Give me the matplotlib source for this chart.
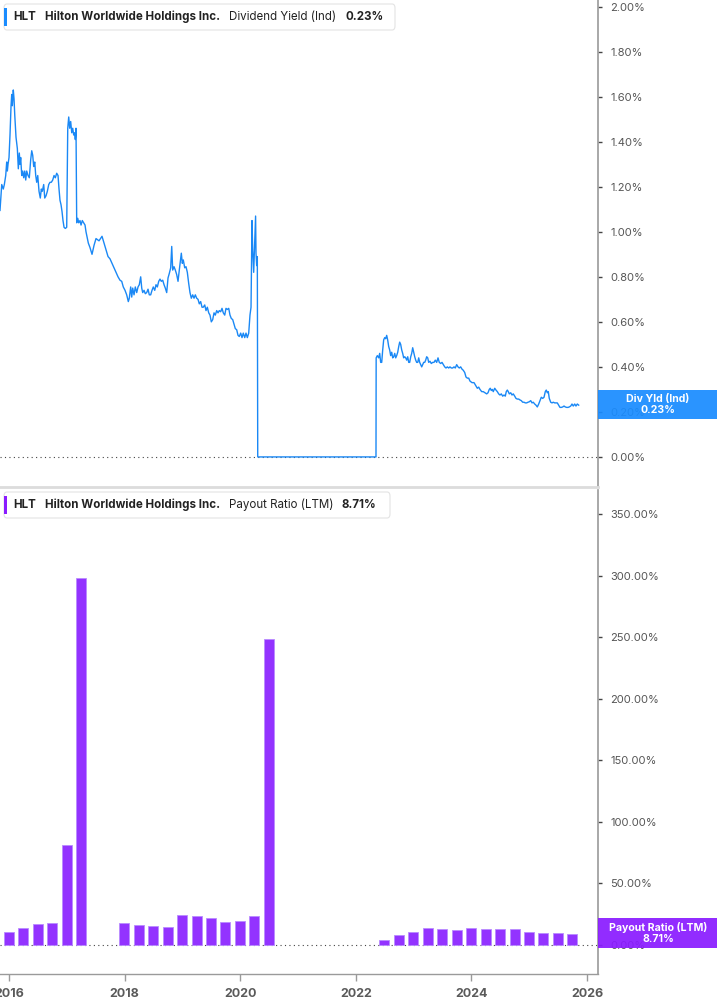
import matplotlib
matplotlib.use('Agg')
import matplotlib.pyplot as plt
from matplotlib.patches import FancyBboxPatch, Rectangle
import datetime as dt

plt.rcParams['font.family'] = ['Inter', 'DejaVu Sans']

# ---------------- data ----------------
ticker = "HLT"
company = "Hilton Worldwide Holdings Inc."
yield_label = "Dividend Yield (Ind)"
yield_last = "0.23%"
yield_tag = "Div Yld (Ind)"
payout_label = "Payout Ratio (LTM)"
payout_last = "8.71%"
payout_tag = "Payout Ratio (LTM)"

# dividend yield (%), time in decimal years
yield_years = [
    2015.844, 2015.874, 2015.901, 2015.919, 2015.943, 2015.960, 2015.971, 2015.983, 2016.000, 2016.017,
    2016.035, 2016.047, 2016.057, 2016.074, 2016.087, 2016.099, 2016.121, 2016.144, 2016.161, 2016.178,
    2016.190, 2016.202, 2016.220, 2016.237, 2016.254, 2016.272, 2016.289, 2016.306, 2016.329, 2016.351,
    2016.375, 2016.393, 2016.410, 2016.427, 2016.445, 2016.462, 2016.479, 2016.497, 2016.519, 2016.541,
    2016.559, 2016.576, 2016.600, 2016.618, 2016.640, 2016.663, 2016.687, 2016.709, 2016.732, 2016.756,
    2016.779, 2016.801, 2016.825, 2016.848, 2016.865, 2016.882, 2016.900, 2016.917, 2016.934, 2016.952,
    2016.974, 2016.998, 2017.016, 2017.033, 2017.050, 2017.067, 2017.085, 2017.102, 2017.119, 2017.137,
    2017.147, 2017.159, 2017.171, 2017.189, 2017.206, 2017.228, 2017.246, 2017.268, 2017.292, 2017.315,
    2017.332, 2017.355, 2017.372, 2017.401, 2017.436, 2017.471, 2017.505, 2017.557, 2017.609, 2017.644,
    2017.678, 2017.713, 2017.747, 2017.782, 2017.834, 2017.886, 2017.920, 2017.950, 2017.977, 2018.007,
    2018.036, 2018.064, 2018.081, 2018.105, 2018.123, 2018.140, 2018.163, 2018.185, 2018.209, 2018.232,
    2018.254, 2018.278, 2018.296, 2018.313, 2018.336, 2018.358, 2018.382, 2018.405, 2018.427, 2018.451,
    2018.474, 2018.496, 2018.521, 2018.543, 2018.566, 2018.590, 2018.612, 2018.635, 2018.659, 2018.682,
    2018.704, 2018.728, 2018.751, 2018.773, 2018.797, 2018.815, 2018.832, 2018.855, 2018.877, 2018.901,
    2018.924, 2018.946, 2018.970, 2018.981, 2018.998, 2019.015, 2019.040, 2019.062, 2019.085, 2019.109,
    2019.131, 2019.154, 2019.178, 2019.201, 2019.223, 2019.247, 2019.270, 2019.292, 2019.316, 2019.339,
    2019.361, 2019.386, 2019.408, 2019.431, 2019.455, 2019.477, 2019.500, 2019.524, 2019.547, 2019.569,
    2019.593, 2019.616, 2019.638, 2019.662, 2019.685, 2019.707, 2019.732, 2019.754, 2019.777, 2019.801,
    2019.823, 2019.846, 2019.870, 2019.893, 2019.915, 2019.939, 2019.962, 2019.984, 2020.008, 2020.031,
    2020.053, 2020.078, 2020.100, 2020.123, 2020.147, 2020.169, 2020.187, 2020.204, 2020.216, 2020.233,
    2020.256, 2020.266, 2020.273, 2020.285, 2020.296, 2020.303, 2022.349, 2022.352, 2022.372, 2022.396,
    2022.413, 2022.430, 2022.448, 2022.465, 2022.482, 2022.500, 2022.517, 2022.534, 2022.551, 2022.569,
    2022.586, 2022.603, 2022.621, 2022.638, 2022.655, 2022.673, 2022.690, 2022.707, 2022.725, 2022.742,
    2022.759, 2022.776, 2022.794, 2022.811, 2022.828, 2022.846, 2022.863, 2022.880, 2022.898, 2022.915,
    2022.932, 2022.950, 2022.967, 2022.984, 2023.001, 2023.019, 2023.036, 2023.053, 2023.071, 2023.088,
    2023.105, 2023.123, 2023.140, 2023.157, 2023.174, 2023.192, 2023.209, 2023.226, 2023.244, 2023.261,
    2023.283, 2023.306, 2023.330, 2023.353, 2023.375, 2023.399, 2023.422, 2023.444, 2023.469, 2023.491,
    2023.514, 2023.538, 2023.560, 2023.583, 2023.607, 2023.629, 2023.652, 2023.676, 2023.699, 2023.721,
    2023.745, 2023.768, 2023.790, 2023.814, 2023.837, 2023.859, 2023.884, 2023.906, 2023.929, 2023.953,
    2023.975, 2024.010, 2024.045, 2024.079, 2024.102, 2024.126, 2024.148, 2024.178, 2024.205, 2024.235,
    2024.264, 2024.287, 2024.309, 2024.326, 2024.344, 2024.361, 2024.378, 2024.403, 2024.425, 2024.448,
    2024.472, 2024.494, 2024.517, 2024.541, 2024.564, 2024.586, 2024.603, 2024.621, 2024.638, 2024.655,
    2024.680, 2024.702, 2024.724, 2024.749, 2024.771, 2024.794, 2024.818, 2024.840, 2024.863, 2024.887,
    2024.910, 2024.932, 2024.956, 2024.979, 2025.001, 2025.026, 2025.048, 2025.070, 2025.095, 2025.117,
    2025.140, 2025.164, 2025.186, 2025.209, 2025.233, 2025.256, 2025.278, 2025.295, 2025.313, 2025.330,
    2025.347, 2025.372, 2025.394, 2025.416, 2025.441, 2025.463, 2025.486, 2025.510, 2025.532, 2025.555,
    2025.579, 2025.602, 2025.624, 2025.648, 2025.671, 2025.693, 2025.718, 2025.740, 2025.762, 2025.787,
    2025.809, 2025.832, 2025.856,
]
yield_values = [
    1.095, 1.21, 1.19, 1.21, 1.25, 1.31, 1.27, 1.30, 1.33, 1.43,
    1.56, 1.61, 1.56, 1.63, 1.59, 1.52, 1.42, 1.37, 1.28, 1.35,
    1.30, 1.33, 1.25, 1.27, 1.24, 1.27, 1.23, 1.27, 1.25, 1.24,
    1.32, 1.36, 1.34, 1.29, 1.31, 1.25, 1.22, 1.25, 1.18, 1.15,
    1.19, 1.18, 1.21, 1.15, 1.16, 1.18, 1.21, 1.22, 1.22, 1.23,
    1.25, 1.24, 1.26, 1.25, 1.19, 1.14, 1.12, 1.09, 1.05, 1.02,
    1.015, 1.02, 1.46, 1.51, 1.46, 1.49, 1.44, 1.46, 1.43, 1.44,
    1.41, 1.46, 1.04, 1.06, 1.04, 1.05, 1.03, 1.05, 1.04, 1.03,
    1.00, 0.97, 0.95, 0.93, 0.90, 0.94, 0.97, 0.96, 0.98, 0.95,
    0.92, 0.89, 0.88, 0.86, 0.83, 0.80, 0.785, 0.78, 0.755, 0.74,
    0.72, 0.69, 0.705, 0.755, 0.71, 0.75, 0.72, 0.755, 0.73, 0.755,
    0.765, 0.80, 0.75, 0.73, 0.74, 0.725, 0.73, 0.745, 0.72, 0.72,
    0.74, 0.755, 0.74, 0.765, 0.755, 0.78, 0.79, 0.78, 0.785, 0.765,
    0.75, 0.73, 0.795, 0.815, 0.84, 0.935, 0.83, 0.845, 0.83, 0.81,
    0.78, 0.83, 0.88, 0.905, 0.86, 0.875, 0.84, 0.845, 0.82, 0.77,
    0.73, 0.705, 0.72, 0.705, 0.72, 0.705, 0.70, 0.68, 0.69, 0.665,
    0.665, 0.675, 0.65, 0.665, 0.64, 0.63, 0.60, 0.61, 0.64, 0.63,
    0.65, 0.64, 0.65, 0.645, 0.66, 0.64, 0.63, 0.66, 0.655, 0.66,
    0.63, 0.615, 0.61, 0.59, 0.57, 0.565, 0.54, 0.535, 0.55, 0.53,
    0.55, 0.53, 0.55, 0.53, 0.55, 0.63, 0.665, 1.05, 0.92, 0.82,
    0.995, 1.07, 0.905, 0.85, 0.89, 0.00, 0.00, 0.44, 0.45, 0.44,
    0.46, 0.42, 0.42, 0.475, 0.52, 0.53, 0.525, 0.54, 0.52, 0.49,
    0.475, 0.45, 0.465, 0.44, 0.445, 0.46, 0.44, 0.45, 0.465, 0.49,
    0.51, 0.50, 0.475, 0.46, 0.44, 0.445, 0.44, 0.43, 0.445, 0.42,
    0.42, 0.445, 0.46, 0.485, 0.465, 0.445, 0.43, 0.42, 0.42, 0.44,
    0.42, 0.41, 0.40, 0.41, 0.42, 0.42, 0.43, 0.445, 0.44, 0.42,
    0.425, 0.415, 0.42, 0.42, 0.43, 0.42, 0.44, 0.42, 0.415, 0.42,
    0.41, 0.40, 0.395, 0.40, 0.395, 0.40, 0.395, 0.395, 0.40, 0.395,
    0.41, 0.40, 0.395, 0.40, 0.39, 0.385, 0.375, 0.355, 0.35, 0.35,
    0.337, 0.33, 0.33, 0.315, 0.305, 0.31, 0.30, 0.29, 0.29, 0.285,
    0.28, 0.285, 0.30, 0.305, 0.295, 0.30, 0.29, 0.305, 0.297, 0.29,
    0.28, 0.275, 0.28, 0.27, 0.275, 0.27, 0.29, 0.297, 0.29, 0.28,
    0.285, 0.275, 0.28, 0.27, 0.26, 0.257, 0.257, 0.253, 0.25, 0.243,
    0.243, 0.24, 0.24, 0.243, 0.245, 0.25, 0.24, 0.243, 0.235, 0.23,
    0.222, 0.235, 0.25, 0.265, 0.26, 0.265, 0.29, 0.297, 0.285, 0.29,
    0.26, 0.243, 0.24, 0.243, 0.24, 0.24, 0.24, 0.23, 0.22, 0.22,
    0.222, 0.226, 0.222, 0.22, 0.22, 0.222, 0.226, 0.235, 0.226, 0.235,
    0.226, 0.235, 0.23,
]

# payout ratio (%) by fiscal quarter end
payout_dates = [
    "2015-12-31", "2016-03-31", "2016-06-30", "2016-09-30", "2016-12-31", "2017-03-31",
    "2017-12-31", "2018-03-31", "2018-06-30", "2018-09-30", "2018-12-31", "2019-03-31",
    "2019-06-30", "2019-09-30", "2019-12-31", "2020-03-31", "2020-06-30",
    "2022-06-30", "2022-09-30", "2022-12-31", "2023-03-31", "2023-06-30", "2023-09-30",
    "2023-12-31", "2024-03-31", "2024-06-30", "2024-09-30", "2024-12-31", "2025-03-31",
    "2025-06-30", "2025-09-30",
]
payout_values = [
    10.3, 13.6, 17.1, 17.9, 81.5, 298.0,
    18.2, 16.3, 15.2, 14.7, 24.1, 23.6,
    22.0, 18.7, 19.5, 23.3, 249.0,
    4.3, 7.9, 10.3, 13.6, 13.0, 12.5,
    14.1, 13.3, 13.3, 13.3, 10.3, 10.0,
    10.0, 8.71,
]

year_ticks = [2016, 2018, 2020, 2022, 2024, 2026]
yield_ticks = [0.0, 0.2, 0.4, 0.6, 0.8, 1.0, 1.2, 1.4, 1.6, 1.8, 2.0]
payout_ticks = [0, 50, 100, 150, 200, 250, 300, 350]

# ---------------- style ----------------
W, H = 717, 1005
BLUE = '#1a88f5'
BLUE_BOX = '#1a8cff'
PURPLE = '#9333ff'
PURPLE_BOX = '#8a1cff'
GREY_TXT = '#555555'
AXIS_GREY = '#9a9a9a'


def to_year(s):
    d = dt.date.fromisoformat(s)
    return d.year + (d - dt.date(d.year, 1, 1)).days / 365.25


fig = plt.figure(figsize=(W / 100, H / 100), dpi=100)
fig.patch.set_facecolor('white')

AX_R = 598
ax1 = fig.add_axes([0, 1 - 487 / H, AX_R / W, 487 / H])
ax2 = fig.add_axes([0, 1 - 974 / H, AX_R / W, (974 - 490) / H])

xlim = (2015.844, 2026.19)

# ----- top panel -----
ax1.plot(yield_years, yield_values, color=BLUE, lw=1.0, zorder=3)
ax1.axhline(0, color='#444444', lw=0.8, linestyle=(0, (1, 3)), zorder=2)
ax1.set_xlim(*xlim)
ax1.set_ylim(-0.1336, 2.0297)
ax1.set_yticks(yield_ticks)
ax1.set_yticklabels([f"{v:.2f}%" for v in yield_ticks])
ax1.set_xticks([])

# ----- bottom panel -----
bx = [to_year(s) for s in payout_dates]
ax2.bar(bx, payout_values, width=0.173, color=PURPLE, edgecolor='#b98bff',
        linewidth=0.6, zorder=3)
ax2.axhline(0, color='#444444', lw=0.8, linestyle=(0, (1, 3)), zorder=2)
ax2.set_xlim(*xlim)
ax2.set_ylim(-23.6, 369.7)
ax2.set_yticks(payout_ticks)
ax2.set_yticklabels([f"{v:.2f}%" for v in payout_ticks])
ax2.set_xticks(year_ticks)
ax2.set_xticklabels([str(y) for y in year_ticks])

for ax in (ax1, ax2):
    ax.yaxis.tick_right()
    ax.tick_params(axis='y', direction='out', length=3, width=1, color='#444444',
                   labelsize=8, labelcolor=GREY_TXT, pad=6)
    for side in ('left', 'top'):
        ax.spines[side].set_visible(False)
    ax.spines['right'].set_color(AXIS_GREY)
    ax.spines['right'].set_linewidth(1.2)
    ax.set_facecolor('none')

ax1.spines['bottom'].set_color('#dcdcdc')
ax1.spines['bottom'].set_linewidth(2)
ax2.spines['bottom'].set_color(AXIS_GREY)
ax2.spines['bottom'].set_linewidth(1)
ax2.tick_params(axis='x', direction='out', length=5, width=1, color=AXIS_GREY,
                labelsize=9, labelcolor='#5a5a5a', pad=5)
for lab in ax2.get_xticklabels():
    lab.set_fontweight('bold')


# ----- legends (header boxes) -----
def header(y_top, color, metric, value, right, value_x):
    box_h = 26
    fig.patches.append(FancyBboxPatch(
        (4 / W, 1 - (y_top + box_h) / H), (right - 4) / W, box_h / H,
        boxstyle="round,pad=0,rounding_size=0.004", transform=fig.transFigure,
        facecolor='white', edgecolor='#e3e3e3', linewidth=0.8, zorder=5))
    fig.patches.append(Rectangle(
        (4 / W, 1 - (y_top + 22) / H), 3 / W, 18 / H, transform=fig.transFigure,
        facecolor=color, edgecolor='none', zorder=6))
    yc = 1 - (y_top + 13) / H
    kw = dict(transform=fig.transFigure, va='center', ha='left', fontsize=8.3,
              color='#222222', zorder=7)
    fig.text(13 / W, yc, ticker, fontweight='bold', **kw)
    fig.text(45 / W, yc, company, fontweight='bold', **kw)
    fig.text(229 / W, yc, metric, **kw)
    fig.text(value_x / W, yc, value, fontweight='bold', **kw)


header(4, BLUE_BOX, yield_label, yield_last, 395, 346)
header(492, PURPLE_BOX, payout_label, payout_last, 390, 341)


# ----- right value tags -----
def tag(y_top, y_bot, color, l1, l2):
    fig.patches.append(Rectangle(
        (AX_R / W, 1 - y_bot / H), (W - AX_R) / W, (y_bot - y_top) / H,
        transform=fig.transFigure, facecolor=color, edgecolor='none',
        alpha=0.93, zorder=8))
    yc = 1 - (y_top + y_bot) / 2 / H
    fig.text(658 / W, yc, f"{l1}\n{l2}", transform=fig.transFigure, ha='center',
             va='center', fontsize=7.6, color='white', fontweight='bold',
             linespacing=1.1, zorder=9)


tag(390, 419, BLUE_BOX, yield_tag, yield_last)
tag(918, 948, PURPLE_BOX, payout_tag, payout_last)

fig.savefig('out.png', dpi=100, facecolor='white')
